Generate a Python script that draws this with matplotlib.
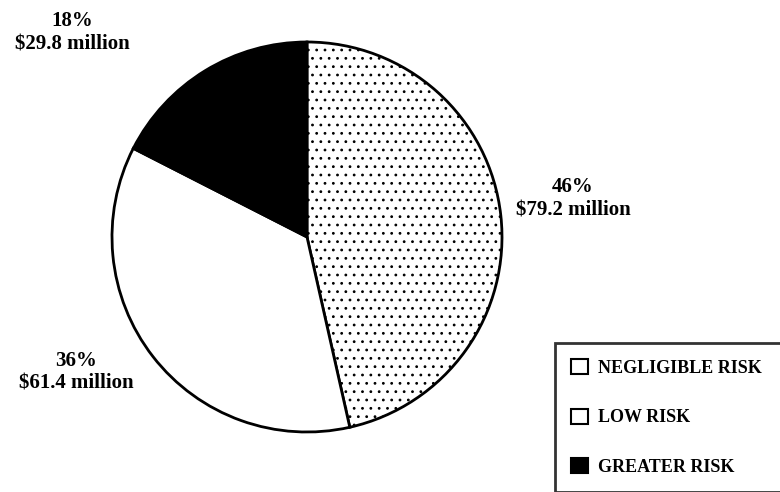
import matplotlib
matplotlib.use("Agg")
import matplotlib.pyplot as plt
from matplotlib.patches import Patch

plt.rcParams['hatch.linewidth'] = 0.8

categories = ["NEGLIGIBLE RISK", "LOW RISK", "GREATER RISK"]
values = [79.2, 61.4, 29.8]          # $ million
percents = ["46%", "36%", "18%"]
amounts = ["$79.2 million", "$61.4 million", "$29.8 million"]
colors = ["white", "white", "black"]
hatches = ["..", "", ""]

W, H = 780, 492
fig = plt.figure(figsize=(W / 100, H / 100), dpi=100)
ax = fig.add_axes([0, 0, 1, 1])

cx, cy, r = 307, H - 237, 195
wedges, _ = ax.pie(values, startangle=90, counterclock=False, colors=colors,
                   center=(cx, cy), radius=r, frame=True,
                   wedgeprops=dict(edgecolor="black", linewidth=2))
for w, h in zip(wedges, hatches):
    w.set_hatch(h)
ax.set_xlim(0, W)
ax.set_ylim(0, H)
ax.set_aspect("equal")
ax.axis("off")

fam = ["Liberation Serif", "DejaVu Serif"]
label_pos = [(573, H - 199), (76, H - 372), (72, H - 33)]
for (x, y), p, a in zip(label_pos, percents, amounts):
    ax.text(x, y, p + "\n" + a, ha="center", va="center", linespacing=1.2,
            family=fam, weight="bold", fontsize=15)

handles = [Patch(facecolor=c, edgecolor="black", linewidth=1.5) for c in colors]
leg = ax.legend(handles, categories, loc="upper left", mode="expand",
                bbox_to_anchor=(555, 2, 260, H - 343 - 2), bbox_transform=ax.transData,
                prop=dict(family=fam, weight="bold", size=13),
                frameon=True, fancybox=False, labelspacing=1.75, handlelength=0.9,
                handleheight=0.9, handletextpad=0.6, borderpad=0.9, borderaxespad=0)
leg.get_frame().set_edgecolor("black")
leg.get_frame().set_linewidth(2)

fig.savefig("out.png", dpi=100, facecolor="white")
